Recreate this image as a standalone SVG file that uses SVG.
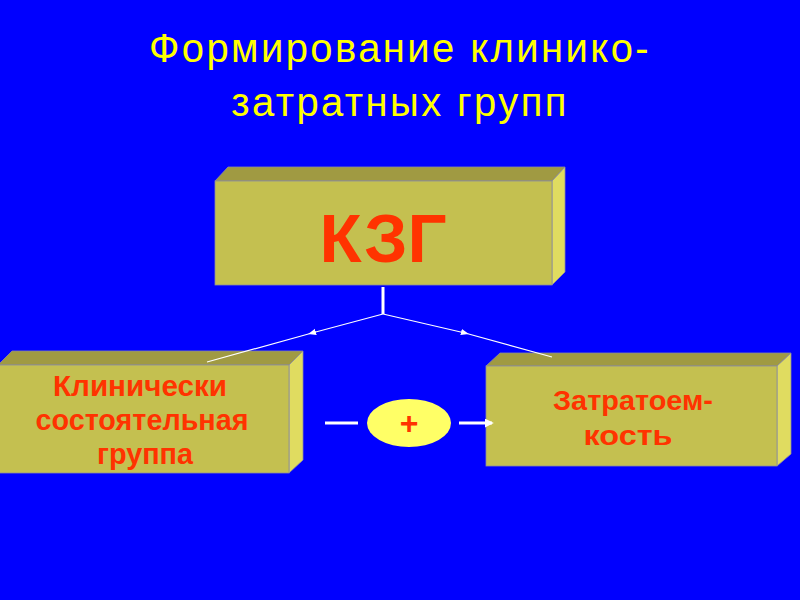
<svg xmlns="http://www.w3.org/2000/svg" width="800" height="600" viewBox="0 0 800 600">
<defs>
<style>
.front{fill:#C4C050;stroke:#8C8C9C;stroke-width:0.8}
.top{fill:#A09A42;stroke:#8C8C9C;stroke-width:0.8}
.side{fill:#E0DC60;stroke:#8C8C9C;stroke-width:0.8}
.lbl{font-family:"Liberation Sans",Arial,sans-serif;font-weight:bold;fill:#FF3300;text-anchor:middle}
.title{font-family:"Liberation Sans",Arial,sans-serif;fill:#FFFF00;text-anchor:middle;font-size:40px;letter-spacing:2.4px}
.conn{stroke:#FFFFFF;fill:none}
</style>
<marker id="ah" viewBox="0 0 10 10" refX="5" refY="5" markerWidth="8" markerHeight="8" markerUnits="userSpaceOnUse" orient="auto">
<path d="M0,1 L10,5 L0,9 Z" fill="#FFFFFF"/>
</marker>
<marker id="ah2" viewBox="0 0 10 10" refX="8" refY="5" markerWidth="9" markerHeight="9" markerUnits="userSpaceOnUse" orient="auto">
<path d="M0,0 L10,5 L0,10 Z" fill="#FFFFFF"/>
</marker>
</defs>
<rect x="0" y="0" width="800" height="600" fill="#0000FF"/>
<text class="title" x="400" y="62">Формирование клинико-</text>
<text class="title" x="400" y="116">затратных групп</text>

<g id="kzg">
<polygon class="top" points="215,181 228,167 565,167 552,181"/>
<polygon class="side" points="552,181 565,167 565,272 552,285"/>
<rect class="front" x="215" y="181" width="337" height="104"/>
<text class="lbl" x="383" y="262" font-size="69">КЗГ</text>
</g>

<g id="clinical">
<polygon class="top" points="-2,365 12,351 303,351 289,365"/>
<polygon class="side" points="289,365 303,351 303,460 289,473"/>
<rect class="front" x="-2" y="365" width="291" height="108"/>
<text class="lbl" x="140" y="396" font-size="29" textLength="174" lengthAdjust="spacingAndGlyphs">Клинически</text>
<text class="lbl" x="142" y="430" font-size="29" textLength="213" lengthAdjust="spacingAndGlyphs">состоятельная</text>
<text class="lbl" x="145" y="464" font-size="29" textLength="96" lengthAdjust="spacingAndGlyphs">группа</text>
</g>

<g id="cost">
<polygon class="top" points="486,366 500,353 791,353 777,366"/>
<polygon class="side" points="777,366 791,353 791,454 777,466"/>
<rect class="front" x="486" y="366" width="291" height="100"/>
<text class="lbl" x="633" y="410" font-size="28" textLength="160" lengthAdjust="spacingAndGlyphs">Затратоем-</text>
<text class="lbl" x="628" y="445" font-size="28" textLength="89" lengthAdjust="spacingAndGlyphs">кость</text>
</g>

<g id="plus">
<ellipse cx="409" cy="423" rx="42" ry="24" fill="#FFFF66"/>
<text class="lbl" x="409" y="434" font-size="32">+</text>
</g>

<g id="connectors">
<line class="conn" x1="383" y1="287" x2="383" y2="314" stroke-width="3"/>
<path class="conn" d="M383,314 L312,333 L207,362" stroke-width="1.2" marker-mid="url(#ah)"/>
<path class="conn" d="M383,314 L465,333 L552,357" stroke-width="1.2" marker-mid="url(#ah)"/>
<line class="conn" x1="325" y1="423" x2="358" y2="423" stroke-width="3"/>
<line class="conn" x1="459" y1="423" x2="492" y2="423" stroke-width="3" marker-end="url(#ah2)"/>
</g>
</svg>
